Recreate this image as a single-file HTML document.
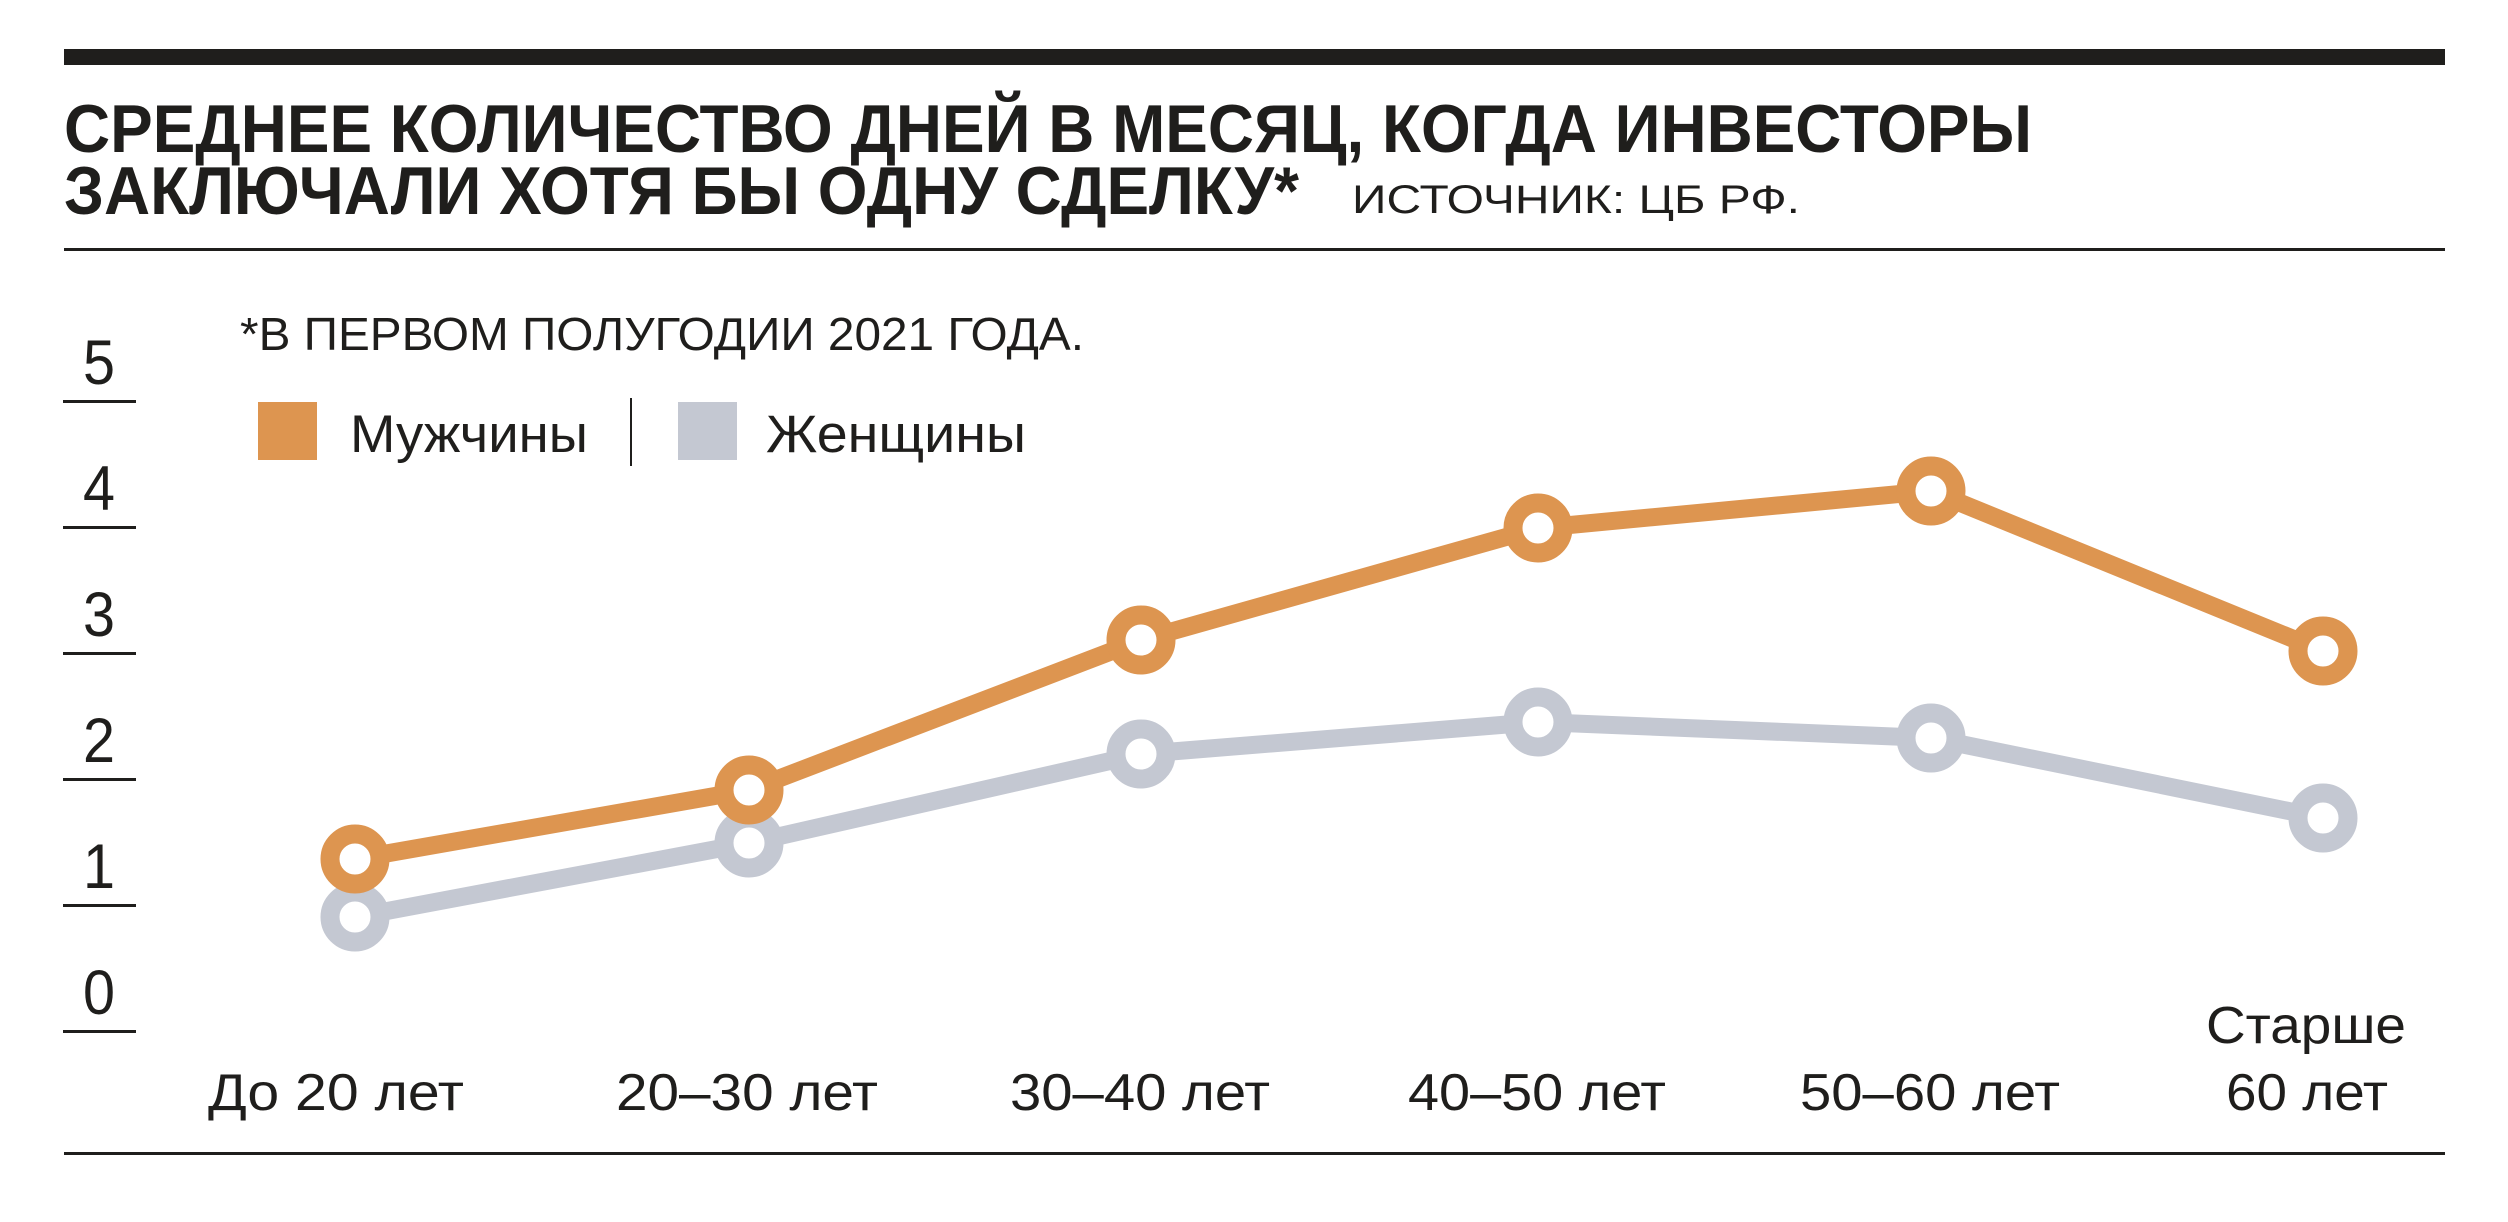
<!DOCTYPE html>
<html><head><meta charset="utf-8"><style>html,body{margin:0;padding:0;background:#fff}svg{display:block}</style></head>
<body>
<svg width="2508" height="1222" viewBox="0 0 2508 1222" xmlns="http://www.w3.org/2000/svg" font-family="'Liberation Sans', sans-serif">
<rect x="64" y="49" width="2381" height="16" fill="#1f1e1c"/>
<text x="64" y="152" font-size="68" font-weight="bold" fill="#1f1e1c" textLength="1968" lengthAdjust="spacingAndGlyphs">СРЕДНЕЕ КОЛИЧЕСТВО ДНЕЙ В МЕСЯЦ, КОГДА ИНВЕСТОРЫ</text>
<text x="64" y="214" font-size="68" font-weight="bold" fill="#1f1e1c" textLength="1235" lengthAdjust="spacingAndGlyphs">ЗАКЛЮЧАЛИ ХОТЯ БЫ ОДНУ СДЕЛКУ*</text>
<text x="1352" y="213" font-size="40" fill="#1f1e1c" textLength="448" lengthAdjust="spacingAndGlyphs">ИСТОЧНИК: ЦБ РФ.</text>
<rect x="64" y="248" width="2381" height="3" fill="#1f1e1c"/>
<text x="240" y="350" font-size="46" fill="#1f1e1c" textLength="844" lengthAdjust="spacingAndGlyphs">*В ПЕРВОМ ПОЛУГОДИИ 2021 ГОДА.</text>
<rect x="258" y="402" width="59" height="58" fill="#dd9550"/>
<text x="350" y="452" font-size="53" fill="#1f1e1c" textLength="238" lengthAdjust="spacingAndGlyphs">Мужчины</text>
<rect x="630" y="398" width="2" height="68" fill="#1f1e1c"/>
<rect x="678" y="402" width="59" height="58" fill="#c4c8d2"/>
<text x="766" y="452" font-size="53" fill="#1f1e1c" textLength="260" lengthAdjust="spacingAndGlyphs">Женщины</text>
<g fill="#1f1e1c" font-size="63" text-anchor="middle">
<rect x="63" y="400" width="73" height="3"/><text x="99" y="384" textLength="32" lengthAdjust="spacingAndGlyphs">5</text>
<rect x="63" y="526" width="73" height="3"/><text x="99" y="510" textLength="32" lengthAdjust="spacingAndGlyphs">4</text>
<rect x="63" y="652" width="73" height="3"/><text x="99" y="636" textLength="32" lengthAdjust="spacingAndGlyphs">3</text>
<rect x="63" y="778" width="73" height="3"/><text x="99" y="762" textLength="32" lengthAdjust="spacingAndGlyphs">2</text>
<rect x="63" y="904" width="73" height="3"/><text x="99" y="888" textLength="32" lengthAdjust="spacingAndGlyphs">1</text>
<rect x="63" y="1030" width="73" height="3"/><text x="99" y="1014" textLength="32" lengthAdjust="spacingAndGlyphs">0</text>
</g>
<g fill="none" stroke-width="18" stroke-linejoin="round">
<polyline stroke="#c4c8d2" points="355,917 749,843 1141,754 1538,722 1931,738 2323,818"/>
<polyline stroke="#dd9550" points="355,859 749,790 1141,640 1538,528 1931,491 2323,651"/>
</g>
<g fill="#fff" stroke="#c4c8d2" stroke-width="19">
<circle cx="355" cy="917" r="25"/><circle cx="749" cy="843" r="25"/><circle cx="1141" cy="754" r="25"/><circle cx="1538" cy="722" r="25"/><circle cx="1931" cy="738" r="25"/><circle cx="2323" cy="818" r="25"/>
</g>
<g fill="#fff" stroke="#dd9550" stroke-width="19">
<circle cx="355" cy="859" r="25"/><circle cx="749" cy="790" r="25"/><circle cx="1141" cy="640" r="25"/><circle cx="1538" cy="528" r="25"/><circle cx="1931" cy="491" r="25"/><circle cx="2323" cy="651" r="25"/>
</g>
<g fill="#1f1e1c" font-size="52" text-anchor="middle">
<text x="336" y="1110" textLength="256" lengthAdjust="spacingAndGlyphs">До 20 лет</text>
<text x="747" y="1110" textLength="262" lengthAdjust="spacingAndGlyphs">20–30 лет</text>
<text x="1140" y="1110" textLength="260" lengthAdjust="spacingAndGlyphs">30–40 лет</text>
<text x="1537" y="1110" textLength="258" lengthAdjust="spacingAndGlyphs">40–50 лет</text>
<text x="1930" y="1110" textLength="260" lengthAdjust="spacingAndGlyphs">50–60 лет</text>
<text x="2306" y="1043" textLength="200" lengthAdjust="spacingAndGlyphs">Старше</text>
<text x="2307" y="1110" textLength="162" lengthAdjust="spacingAndGlyphs">60 лет</text>
</g>
<rect x="64" y="1152" width="2381" height="3" fill="#1f1e1c"/>
</svg>
</body></html>
